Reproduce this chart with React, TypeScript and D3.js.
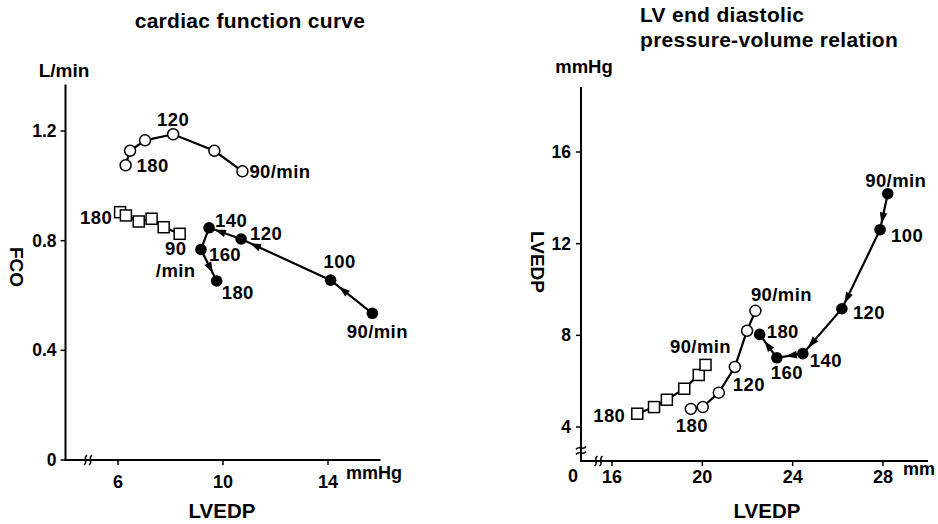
import React from 'react';
import * as d3 from 'd3';

// ---------- Left chart: cardiac function curve ----------
const leftOpenX = [6.29, 6.46, 7.03, 8.1, 9.67, 10.74];
const leftOpenY = [1.075, 1.128, 1.166, 1.188, 1.128, 1.053];
const leftOpenLabels = ['180', '', '', '120', '', '90/min'];

const leftSquareX = [6.08, 6.3, 6.79, 7.28, 7.74, 8.35];
const leftSquareY = [0.904, 0.892, 0.87, 0.88, 0.849, 0.825];
const leftSquareLabels = ['180', '', '', '', '', '90|/min'];

const leftFilledX = [15.69, 14.1, 10.69, 9.47, 9.16, 9.76];
const leftFilledY = [0.535, 0.656, 0.806, 0.847, 0.768, 0.653];
const leftFilledLabels = ['90/min', '100', '120', '140', '160', '180'];
const leftArrowSegments = [0, 1, 2, 4];

const leftXTicks = [6, 10, 14];
const leftYTicks = [0, 0.4, 0.8, 1.2];

// ---------- Right chart: LV end diastolic P-V relation ----------
const rightFilledX = [28.21, 27.87, 26.18, 24.45, 23.3, 22.54];
const rightFilledY = [14.18, 12.61, 9.16, 7.2, 7.02, 8.04];
const rightFilledLabels = ['90/min', '100', '120', '140', '160', '180'];
const rightArrowSegments = [0, 1, 2, 3, 4];

const rightOpenX = [19.49, 20.02, 20.73, 21.44, 21.98, 22.35];
const rightOpenY = [4.79, 4.87, 5.5, 6.62, 8.2, 9.07];
const rightOpenLabels = ['180', '', '', '120', '', '90/min'];

const rightSquareX = [17.12, 17.86, 18.43, 19.2, 19.84, 20.14];
const rightSquareY = [4.58, 4.87, 5.19, 5.67, 6.27, 6.71];
const rightSquareLabels = ['180', '', '', '', '', '90/min'];

const rightXTicks = [16, 20, 24, 28];
const rightYTicks = [4, 8, 12, 16];

const FONT = "'Liberation Sans', Arial, Helvetica, sans-serif";

type Off = [number, number, string];

// label offsets (dx, dy baseline, anchor) per point
const offLeftOpen: Off[] = [[11, 7, 'start'], [0, 0, 'start'], [0, 0, 'start'], [0, -8, 'middle'], [0, 0, 'start'], [7, 7, 'start']];
const offLeftSquare: Off[] = [[-8, 12, 'end'], [0, 0, 'start'], [0, 0, 'start'], [0, 0, 'start'], [0, 0, 'start'], [-4, 21, 'middle']];
const offLeftFilled: Off[] = [[5, 25, 'middle'], [9, -12, 'middle'], [9, 1, 'start'], [6, -1, 'start'], [8, 12, 'start'], [5, 18, 'start']];
const offRightFilled: Off[] = [[8, -7, 'middle'], [11, 12, 'start'], [11, 10, 'start'], [7, 13, 'start'], [10, 21, 'middle'], [7, 4, 'start']];
const offRightOpen: Off[] = [[1, 23, 'middle'], [0, 0, 'start'], [0, 0, 'start'], [-2, 24, 'start'], [0, 0, 'start'], [26, -10, 'middle']];
const offRightSquare: Off[] = [[-12, 8, 'end'], [0, 0, 'start'], [0, 0, 'start'], [0, 0, 'start'], [0, 0, 'start'], [-5, -12, 'middle']];

const leftArrowT = [0.8, 0.9, 0.82, 0.75];
const rightArrowT = [0.83, 0.93, 0.86, 0.65, 0.72];

function Arrow({ x1, y1, x2, y2, t }: { x1: number; y1: number; x2: number; y2: number; t: number }) {
  const dx = x2 - x1, dy = y2 - y1;
  const len = Math.hypot(dx, dy);
  const ux = dx / len, uy = dy / len;
  const tx = x1 + dx * t, ty = y1 + dy * t;
  const L = 11, W = 3.8;
  const bx = tx - ux * L, by = ty - uy * L;
  const nx = -uy, ny = ux;
  const pts = `${tx},${ty} ${bx + nx * W},${by + ny * W} ${bx - nx * W},${by - ny * W}`;
  return <polygon points={pts} fill="#000" />;
}

function Labels({ xs, ys, labels, offs, sx, sy }: any) {
  return (
    <g>
      {labels.map((lab: string, i: number) => {
        if (!lab) return null;
        const [dx, dy, anchor] = offs[i];
        const x = sx(xs[i]) + dx;
        const y = sy(ys[i]) + dy;
        const parts = lab.split('|');
        return (
          <text key={i} x={x} y={y} textAnchor={anchor} fontSize={18.5} fontWeight="bold" fontFamily={FONT} letterSpacing={0.4}>
            {parts.map((p, j) => (
              <tspan key={j} x={x} dy={j === 0 ? 0 : 22}>{p}</tspan>
            ))}
          </text>
        );
      })}
    </g>
  );
}

function Series({ xs, ys, sx, sy, kind }: any) {
  const pts: [number, number][] = xs.map((x: number, i: number) => [sx(x), sy(ys[i])]);
  const line = d3.line()(pts) || '';
  return (
    <g>
      <path d={line} fill="none" stroke="#000" strokeWidth={2.2} />
      {pts.map(([px, py], i) =>
        kind === 'square' ? (
          <rect key={i} x={px - 5.5} y={py - 5.5} width={11} height={11} fill="#fff" stroke="#000" strokeWidth={1.5} />
        ) : kind === 'open' ? (
          <circle key={i} cx={px} cy={py} r={5.5} fill="#fff" stroke="#000" strokeWidth={1.5} />
        ) : (
          <circle key={i} cx={px} cy={py} r={5.8} fill="#000" />
        )
      )}
    </g>
  );
}

function breakMark(x: number, y: number, vertical: boolean) {
  if (vertical) {
    return `M ${x - 1.5} ${y + 5} C ${x + 3} ${y + 2}, ${x - 3} ${y - 2}, ${x + 1.5} ${y - 5}`;
  }
  return `M ${x - 5} ${y + 1.5} C ${x - 2} ${y - 3}, ${x + 2} ${y + 3}, ${x + 5} ${y - 1.5}`;
}

export default function App() {
  const lx = d3.scaleLinear().domain([6, 14]).range([118, 328]);
  const ly = d3.scaleLinear().domain([0, 1.2]).range([460, 131]);
  const lxMin = 4, lxMax = 16, lyMax = 1.37;

  const rx = d3.scaleLinear().domain([16, 28]).range([612, 883]);
  const ry = d3.scaleLinear().domain([4, 16]).range([427, 152]);
  const rxMaxPx = 928, ryTopPx = 87, rOriginX = 581, rOriginY = 461;

  const lOriginX = lx(lxMin), lOriginY = ly(0);

  const fPts = (xs: number[], ys: number[], sx: any, sy: any) => xs.map((x, i) => [sx(x), sy(ys[i])]);
  const lf = fPts(leftFilledX, leftFilledY, lx, ly);
  const rf = fPts(rightFilledX, rightFilledY, rx, ry);

  const txt = (size: number) => ({ fontSize: size, fontWeight: 'bold' as const, fontFamily: FONT });

  return (
    <svg width={938} height={524} style={{ position: 'absolute', left: 0, top: 0, background: '#fff' }}>
      <rect x={0} y={0} width={938} height={524} fill="#fff" />

      {/* ===== Left chart ===== */}
      <text x={250} y={28} textAnchor="middle" {...txt(21)} letterSpacing={0.3}>cardiac function curve</text>
      <text x={64} y={77} textAnchor="middle" {...txt(19)}>L/min</text>
      <line x1={lOriginX} y1={ly(lyMax)} x2={lOriginX} y2={lOriginY} stroke="#000" strokeWidth={2} />
      <line x1={lOriginX - 1} y1={lOriginY} x2={lx(lxMax)} y2={lOriginY} stroke="#000" strokeWidth={2} />
      {leftYTicks.map((t) => (
        <g key={t}>
          <line x1={lOriginX - 5} x2={lOriginX} y1={ly(t)} y2={ly(t)} stroke="#000" strokeWidth={1.5} />
          <text x={lOriginX - 9} y={ly(t) + 6} textAnchor="end" {...txt(17.5)}>{t === 0 ? '0' : t.toFixed(1)}</text>
        </g>
      ))}
      {leftXTicks.map((t) => (
        <g key={t}>
          <line x1={lx(t)} x2={lx(t)} y1={lOriginY} y2={lOriginY + 5} stroke="#000" strokeWidth={1.5} />
          <text x={lx(t)} y={488} textAnchor="middle" {...txt(18)}>{t}</text>
        </g>
      ))}
      <path d={breakMark(lOriginX + 20, lOriginY, true)} fill="none" stroke="#000" strokeWidth={1.5} />
      <path d={breakMark(lOriginX + 25, lOriginY, true)} fill="none" stroke="#000" strokeWidth={1.5} />
      <text x={346} y={479} {...txt(18)}>mmHg</text>
      <text x={222} y={518} textAnchor="middle" {...txt(20.5)}>LVEDP</text>
      <text transform="translate(10,267) rotate(90)" textAnchor="middle" {...txt(19)}>FCO</text>

      <Series xs={leftOpenX} ys={leftOpenY} sx={lx} sy={ly} kind="open" />
      <Series xs={leftSquareX} ys={leftSquareY} sx={lx} sy={ly} kind="square" />
      <Series xs={leftFilledX} ys={leftFilledY} sx={lx} sy={ly} kind="filled" />
      {leftArrowSegments.map((s, i) => (
        <Arrow key={i} x1={lf[s][0]} y1={lf[s][1]} x2={lf[s + 1][0]} y2={lf[s + 1][1]} t={leftArrowT[i]} />
      ))}
      <Labels xs={leftOpenX} ys={leftOpenY} labels={leftOpenLabels} offs={offLeftOpen} sx={lx} sy={ly} />
      <Labels xs={leftSquareX} ys={leftSquareY} labels={leftSquareLabels} offs={offLeftSquare} sx={lx} sy={ly} />
      <Labels xs={leftFilledX} ys={leftFilledY} labels={leftFilledLabels} offs={offLeftFilled} sx={lx} sy={ly} />

      {/* ===== Right chart ===== */}
      <text x={640} y={22} {...txt(21)} letterSpacing={0.3}>LV end diastolic</text>
      <text x={640} y={47} {...txt(21)} letterSpacing={0.3}>pressure-volume relation</text>
      <text x={584} y={73} textAnchor="middle" {...txt(18.5)}>mmHg</text>
      <line x1={rOriginX} y1={ryTopPx} x2={rOriginX} y2={rOriginY} stroke="#000" strokeWidth={2} />
      <line x1={rOriginX - 1} y1={rOriginY} x2={rxMaxPx} y2={rOriginY} stroke="#000" strokeWidth={2} />
      {rightYTicks.map((t) => (
        <g key={t}>
          <line x1={rOriginX - 5} x2={rOriginX} y1={ry(t)} y2={ry(t)} stroke="#000" strokeWidth={1.5} />
          <text x={rOriginX - 10} y={ry(t) + 6} textAnchor="end" {...txt(17.5)}>{t}</text>
        </g>
      ))}
      {rightXTicks.map((t) => (
        <g key={t}>
          <line x1={rx(t)} x2={rx(t)} y1={rOriginY} y2={rOriginY + 5} stroke="#000" strokeWidth={1.5} />
          <text x={rx(t)} y={483} textAnchor="middle" {...txt(18)}>{t}</text>
        </g>
      ))}
      <text x={573} y={482} textAnchor="middle" {...txt(18)}>0</text>
      <path d={breakMark(rOriginX + 15, rOriginY, true)} fill="none" stroke="#000" strokeWidth={1.5} />
      <path d={breakMark(rOriginX + 20, rOriginY, true)} fill="none" stroke="#000" strokeWidth={1.5} />
      <path d={breakMark(rOriginX, rOriginY - 13, false)} fill="none" stroke="#000" strokeWidth={1.5} />
      <path d={breakMark(rOriginX, rOriginY - 8, false)} fill="none" stroke="#000" strokeWidth={1.5} />
      <text x={903} y={475} {...txt(18)}>mm</text>
      <text x={767} y={518} textAnchor="middle" {...txt(20.5)}>LVEDP</text>
      <text transform="translate(531,262) rotate(90)" textAnchor="middle" {...txt(19)}>LVEDP</text>

      <Series xs={rightSquareX} ys={rightSquareY} sx={rx} sy={ry} kind="square" />
      <Series xs={rightOpenX} ys={rightOpenY} sx={rx} sy={ry} kind="open" />
      <Series xs={rightFilledX} ys={rightFilledY} sx={rx} sy={ry} kind="filled" />
      {rightArrowSegments.map((s, i) => (
        <Arrow key={i} x1={rf[s][0]} y1={rf[s][1]} x2={rf[s + 1][0]} y2={rf[s + 1][1]} t={rightArrowT[i]} />
      ))}
      <Labels xs={rightSquareX} ys={rightSquareY} labels={rightSquareLabels} offs={offRightSquare} sx={rx} sy={ry} />
      <Labels xs={rightOpenX} ys={rightOpenY} labels={rightOpenLabels} offs={offRightOpen} sx={rx} sy={ry} />
      <Labels xs={rightFilledX} ys={rightFilledY} labels={rightFilledLabels} offs={offRightFilled} sx={rx} sy={ry} />
    </svg>
  );
}
